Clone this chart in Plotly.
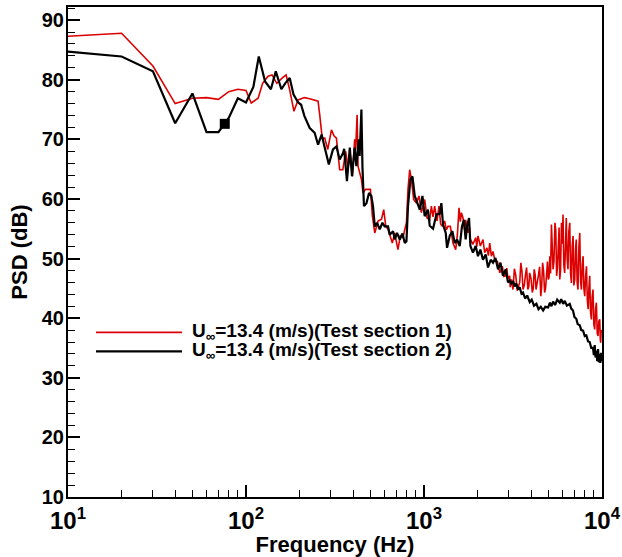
import plotly.graph_objects as go

# ---- data ----
f_red = [10, 20, 30, 40, 50, 60, 70, 80, 90, 100, 107, 117, 124, 133, 140, 149, 160, 168, 176, 186,
         196, 213, 228, 243, 254, 260, 268, 277, 288, 302, 312, 322, 336, 350, 363, 374, 386, 396,
         408, 413, 421, 426, 435, 445, 454, 469, 484, 500, 513, 529, 552, 577, 594, 610, 628, 642,
         664, 684, 714, 736, 762, 780, 797, 813, 831, 849, 875, 906, 937, 966, 1009, 1040, 1077,
         1100, 1124, 1148, 1183, 1214, 1240, 1268, 1306, 1335, 1364, 1406, 1430, 1455, 1507, 1540,
         1573, 1600, 1622, 1656, 1690, 1714, 1766, 1800, 1823, 1884, 1951, 1980, 2010, 2073, 2144,
         2192, 2258, 2300, 2340, 2391, 2440, 2497, 2585, 2620, 2664, 2756, 2810, 2876, 2920, 2960,
         3030, 3050, 3100, 3162, 3220, 3280, 3340, 3390, 3450, 3500, 3550, 3600, 3660, 3710, 3770,
         3830, 3880, 3920, 3990, 4060, 4110, 4160, 4210, 4260, 4330, 4390, 4460, 4530, 4580, 4640,
         4700, 4760, 4820, 4880, 4940, 4990, 5040, 5090, 5140, 5200, 5250, 5310, 5370, 5440, 5500,
         5560, 5620, 5680, 5740, 5790, 5850, 5920, 5980, 6040, 6100, 6170, 6230, 6300, 6370, 6440,
         6510, 6590, 6660, 6730, 6800, 6880, 6950, 7030, 7100, 7170, 7250, 7330, 7420, 7500, 7580,
         7660, 7750, 7830, 7910, 8000, 8090, 8180, 8270, 8360, 8440, 8530, 8620, 8720, 8800, 8900,
         9000, 9100, 9200, 9300, 9400, 9500, 9600, 9710, 9780, 9830, 9900, 10000]
psd_red = [87.3, 87.8, 82.3, 76.0, 76.9, 77.0, 76.7, 78.0, 78.4, 78.2, 76.1, 76.9, 79.4, 80.6, 80.8,
           79.4, 80.3, 80.8, 78.3, 74.7, 76.6, 77.0, 76.8, 76.6, 76.4, 73.9, 70.2, 70.2, 68.3, 71.6,
           70.6, 70.2, 64.9, 64.9, 68.0, 65.2, 67.2, 63.8, 70.0, 68.3, 74.1, 65.5, 64.4, 63.3, 61.0,
           61.6, 61.6, 61.6, 57.1, 54.3, 56.3, 56.6, 58.2, 55.4, 54.9, 53.8, 52.6, 54.3, 51.5, 53.8,
           53.5, 54.9, 56.0, 61.6, 64.9, 63.3, 59.9, 59.3, 60.5, 57.7, 59.9, 56.8, 56.5, 58.8, 57.0,
           58.8, 56.3, 58.8, 55.8, 55.4, 56.3, 54.8, 55.4, 55.4, 53.8, 52.6, 51.5, 54.0, 58.5, 56.2,
           57.7, 56.8, 54.8, 56.5, 54.3, 55.3, 53.2, 52.4, 53.5, 52.0, 53.8, 52.1, 53.2, 51.0, 51.8,
           50.5, 52.6, 50.4, 51.2, 49.8, 49.5, 48.3, 47.6, 48.7, 47.0, 47.1, 48.4, 46.6, 47.1, 45.2,
           46.5, 44.8, 48.3, 47.1, 44.6, 45.3, 46.0, 49.3, 47.9, 44.8, 45.5, 47.1, 48.5, 44.8, 45.3,
           47.6, 46.7, 44.3, 45.0, 48.2, 47.3, 44.8, 45.8, 47.1, 48.6, 43.7, 45.2, 49.3, 47.8, 44.3,
           45.0, 48.7, 49.5, 46.5, 46.8, 50.4, 47.5, 55.7, 53.0, 48.2, 49.5, 56.0, 54.8, 47.1, 48.5,
           54.3, 55.2, 46.5, 48.0, 56.0, 52.5, 57.4, 49.0, 47.6, 55.5, 56.8, 50.0, 48.2, 54.5, 56.0,
           47.5, 45.9, 52.0, 53.8, 45.5, 46.5, 51.5, 53.2, 46.0, 44.8, 52.0, 54.3, 46.2, 44.8, 49.0,
           50.4, 45.0, 43.7, 47.0, 48.7, 43.0, 41.5, 45.0, 47.1, 41.0, 39.8, 43.5, 44.8, 39.0, 38.1,
           41.5, 42.6, 37.5, 37.0, 39.5, 39.8, 36.5, 35.9, 38.0, 37.5]

f_black = [10, 20, 30, 40, 50, 60, 70, 80, 90, 100, 110, 118, 128, 138, 147, 158, 166, 176, 185, 196,
           204, 213, 228, 243, 254, 266, 277, 292, 308, 322, 336, 351, 356, 369, 383, 394, 408, 417,
           430, 435, 445, 451, 460, 475, 491, 506, 517, 529, 545, 564, 584, 601, 628, 642, 670, 685,
           705, 731, 757, 780, 797, 813, 839, 861, 887, 914, 947, 980, 1009, 1052, 1077, 1124, 1174,
           1226, 1252, 1279, 1325, 1347, 1395, 1444, 1487, 1532, 1588, 1634, 1677, 1714, 1745, 1791,
           1823, 1884, 1951, 2010, 2073, 2144, 2221, 2289, 2371, 2443, 2520, 2606, 2688, 2779, 2876,
           2964, 3030, 3097, 3170, 3234, 3300, 3377, 3450, 3530, 3600, 3700, 3800, 3927, 4030, 4150,
           4280, 4400, 4530, 4670, 4800, 4980, 5100, 5200, 5310, 5450, 5600, 5790, 5900, 6050, 6180,
           6350, 6590, 6720, 6870, 7000, 7170, 7300, 7500, 7650, 7830, 8000, 8170, 8350, 8530, 8700,
           8900, 9000, 9100, 9200, 9300, 9400, 9500, 9600, 9710, 9800, 9900, 10000]
psd_black = [84.7, 83.9, 81.4, 72.7, 77.7, 71.2, 71.2, 73.6, 76.9, 76.2, 78.8, 83.9, 79.7, 78.4, 81.4,
             78.4, 79.4, 80.3, 77.5, 76.2, 75.8, 73.9, 71.9, 71.1, 69.1, 70.8, 68.6, 65.8, 68.3, 68.8,
             66.6, 67.7, 68.4, 63.0, 68.6, 63.8, 68.6, 65.5, 70.0, 67.2, 75.0, 65.5, 58.8, 59.3, 61.0,
             60.5, 58.8, 55.4, 56.0, 54.9, 56.0, 55.4, 55.4, 54.0, 54.6, 53.2, 54.3, 53.2, 54.2, 52.6,
             52.9, 58.8, 63.3, 63.8, 60.5, 59.3, 58.2, 60.5, 57.1, 58.2, 55.5, 55.0, 57.4, 57.5, 59.3,
             55.7, 54.3, 51.8, 53.8, 54.6, 52.6, 53.2, 52.1, 55.4, 56.5, 53.2, 55.4, 56.8, 52.1, 51.0,
             52.1, 50.4, 51.5, 49.8, 50.7, 48.5, 49.8, 49.3, 50.1, 48.2, 49.3, 47.1, 48.2, 46.0, 46.3,
             45.8, 46.2, 45.3, 45.8, 44.8, 45.2, 44.1, 44.3, 43.3, 43.8, 42.7, 43.1, 42.1, 42.4, 41.5,
             41.9, 41.3, 41.9, 41.8, 42.6, 42.0, 42.8, 42.2, 43.1, 42.6, 43.2, 42.4, 42.9, 42.1, 42.4,
             41.6, 41.3, 40.2, 39.9, 39.0, 38.8, 38.0, 37.9, 37.0, 37.1, 36.1, 36.0, 35.0, 35.0, 33.8,
             35.5, 33.4, 34.5, 32.8, 34.8, 32.6, 34.0, 32.5, 34.2, 32.8]

marker_f = [76]
marker_psd = [72.6]

legend_names = ["U<sub>∞</sub>=13.4 (m/s)(Test section 1)",
                "U<sub>∞</sub>=13.4 (m/s)(Test section 2)"]
x_tickvals = [10, 100, 1000, 10000]
x_ticktext = ["10<sup>1</sup>", "10<sup>2</sup>", "10<sup>3</sup>", "10<sup>4</sup>"]
y_tickvals = [10, 20, 30, 40, 50, 60, 70, 80, 90]

RED = "#dc0000"
FONT = "Arial, Liberation Sans, Helvetica, sans-serif"

fig = go.Figure()
fig.add_trace(go.Scatter(x=f_red, y=psd_red, mode="lines",
                         line=dict(color=RED, width=1.6), showlegend=False))
fig.add_trace(go.Scatter(x=f_black, y=psd_black, mode="lines",
                         line=dict(color="black", width=2.2), showlegend=False))
fig.add_trace(go.Scatter(x=marker_f, y=marker_psd, mode="markers",
                         marker=dict(symbol="square", size=10, color="black"), showlegend=False))

fig.update_layout(
    width=622, height=557,
    margin=dict(l=68, r=20, t=7, b=60),
    paper_bgcolor="white", plot_bgcolor="white",
    font=dict(family=FONT, color="black"),
    xaxis=dict(
        type="log", range=[1, 4], showgrid=False, zeroline=False,
        showline=True, linecolor="black", linewidth=2, mirror=True,
        ticks="inside", ticklen=12, tickwidth=1.5, tickcolor="black",
        tickvals=x_tickvals, ticktext=x_ticktext,
        tickfont=dict(family=FONT, size=24, weight=700),
        ticklabelstandoff=1,
        minor=dict(ticks="inside", ticklen=7, tickwidth=1.2, tickcolor="black",
                   dtick="D1", showgrid=False),
        title=dict(text="Frequency (Hz)", font=dict(family=FONT, size=22, weight=700), standoff=0),
        automargin=False,
    ),
    yaxis=dict(
        range=[10, 92.2], showgrid=False, zeroline=False,
        showline=True, linecolor="black", linewidth=2, mirror=True,
        ticks="inside", ticklen=12, tickwidth=1.5, tickcolor="black",
        tickvals=y_tickvals,
        tickfont=dict(family=FONT, size=20, weight=700),
        ticklabelstandoff=-2,
        minor=dict(ticks="inside", ticklen=7, tickwidth=1.2, tickcolor="black",
                   dtick=2, showgrid=False),
        title=dict(text="PSD (dB)", font=dict(family=FONT, size=22, weight=700), standoff=8),
        automargin=False,
    ),
)

# custom legend (long line samples like the reference)
leg_y = [0.336, 0.297]
leg_col = [RED, "black"]
leg_w = [1.6, 2.2]
for name, yy, c, w in zip(legend_names, leg_y, leg_col, leg_w):
    fig.add_shape(type="line", xref="paper", yref="paper", x0=0.0524, x1=0.2135, y0=yy, y1=yy,
                  line=dict(color=c, width=w))
    fig.add_annotation(xref="paper", yref="paper", x=0.2285, y=yy, xanchor="left", yanchor="middle",
                       text=name, showarrow=False,
                       font=dict(family=FONT, size=19, weight=700, color="black"))

fig.write_html("out.html", config={"displayModeBar": False},
               post_script="document.body.style.margin='0';document.body.style.overflow='hidden';")
